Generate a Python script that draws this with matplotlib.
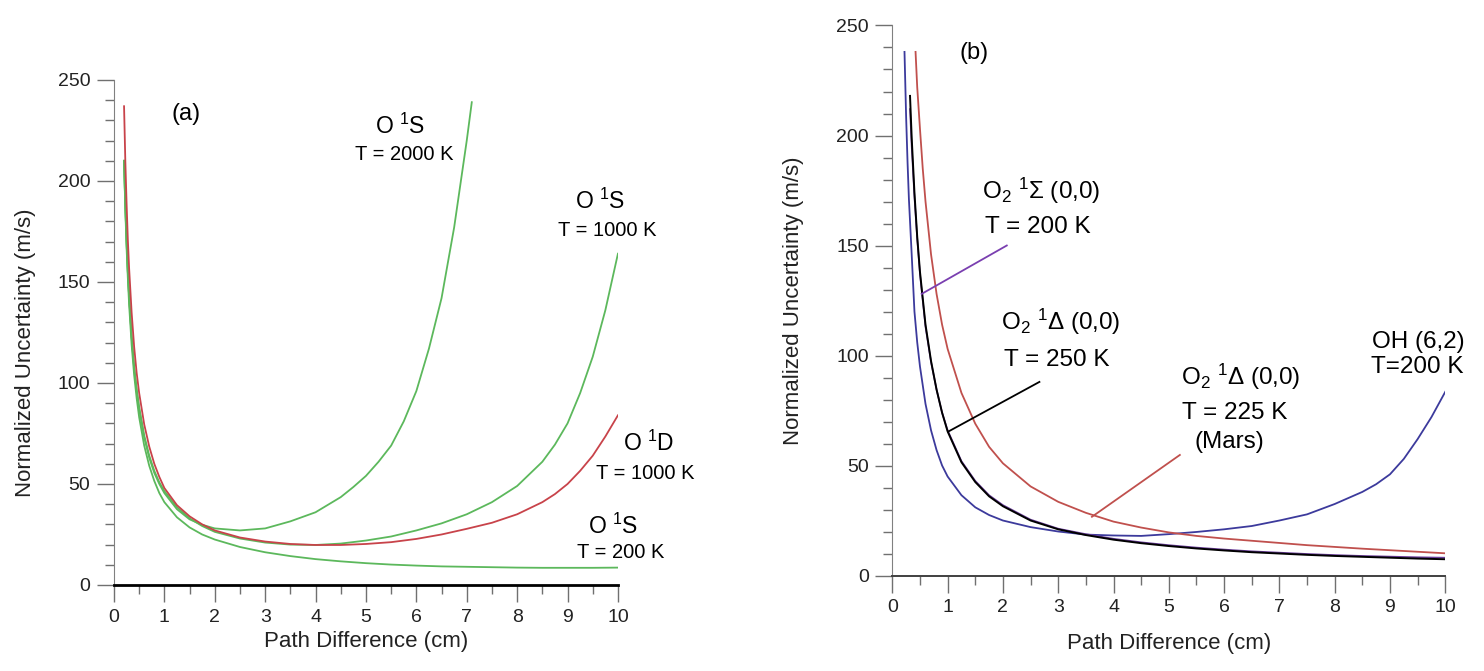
import numpy as np
import matplotlib.pyplot as plt
from matplotlib.ticker import MultipleLocator

plt.rcParams['font.family'] = ['Liberation Sans', 'DejaVu Sans']
plt.rcParams['mathtext.fontset'] = 'custom'
plt.rcParams['mathtext.rm'] = 'Liberation Sans'
plt.rcParams['mathtext.it'] = 'Liberation Sans:italic'
plt.rcParams['mathtext.bf'] = 'Liberation Sans:bold'

# ---------------- panel (a) data ----------------
x_a = [0.2, 0.225, 0.25, 0.275, 0.3, 0.35, 0.4, 0.45, 0.5, 0.6, 0.7, 0.8, 0.9, 1.0,
       1.25, 1.5, 1.75, 2, 2.5, 3, 3.5, 4, 4.5, 5, 5.5, 6, 6.5, 7, 7.5, 8, 8.5,
       8.75, 9, 9.25, 9.5, 9.75, 10]
o1d_1000 = [237, 210, 189, 171, 157, 135, 118, 105, 95, 79.5, 68.5, 60, 53.5, 48,
            39.5, 34, 30, 27, 23.5, 21.5, 20.3, 19.8, 19.8, 20.3, 21.2, 22.8, 25, 27.8, 30.8, 35, 41,
            45, 50, 56.5, 64, 73.5, 84]
o1s_1000 = [210, 188, 170, 155, 143, 123, 108, 97, 88, 74, 64, 56.5, 50.8, 46.5,
            38.5, 33, 29.2, 26.3, 23, 21, 20, 19.8, 20.5, 22, 24, 27, 30.5, 35, 41, 49, 61,
            69.5, 80, 95, 113, 136, 164]
o1s_200 = [210, 186, 167, 152, 139, 119, 104, 92.5, 83, 69, 59, 51.5, 45.5, 41,
           33.5, 28.5, 25, 22.5, 18.8, 16.2, 14.3, 12.8, 11.7, 10.8, 10.1, 9.6, 9.2, 9.0, 8.8, 8.6, 8.5,
           8.5, 8.5, 8.5, 8.5, 8.55, 8.6]
x_a2 = [0.2, 0.225, 0.25, 0.275, 0.3, 0.35, 0.4, 0.45, 0.5, 0.6, 0.7, 0.8, 0.9, 1.0,
        1.25, 1.5, 1.75, 2, 2.5, 3, 3.5, 4, 4.5, 4.75, 5, 5.25, 5.5, 5.75, 6, 6.25,
        6.5, 6.75, 7.0, 7.1]
o1s_2000 = [210, 188, 170, 155, 143, 123, 107.5, 96, 87, 73, 63, 55.5, 50, 45.5,
            37.5, 32.5, 29.8, 28, 27, 28, 31.5, 36, 43.5, 48.5, 54, 61, 69, 81, 96, 117,
            142, 177, 220, 239]

# ---------------- panel (b) data ----------------
x_oh = [0.22, 0.25, 0.275, 0.3, 0.35, 0.4, 0.45, 0.5, 0.6, 0.7, 0.8, 0.9, 1, 1.25,
        1.5, 1.75, 2, 2.5, 3, 3.5, 4, 4.5, 5, 5.5, 6, 6.5, 7, 7.5, 8, 8.5, 8.75, 9,
        9.25, 9.5, 9.75, 10]
oh_200 = [238, 208, 188, 171, 146, 120, 106, 95, 78, 66, 57, 50, 45, 36.5,
          31, 27.5, 25, 22, 20, 18.6, 18.2, 18.0, 18.8, 19.8, 21, 22.5, 25, 27.8, 32.5, 38, 41.5, 46,
          53, 62, 72, 83.5]
x_mars = [0.42, 0.45, 0.5, 0.55, 0.6, 0.7, 0.8, 0.9, 1, 1.25, 1.5, 1.75, 2, 2.5, 3,
          3.5, 4, 4.5, 5, 5.5, 6, 6.5, 7, 7.5, 8, 8.5, 9, 9.5, 10]
o2d_225 = [238, 222, 203, 185, 170, 146, 128, 114, 103, 83, 69, 58.5, 51, 40.5, 33.5,
           28.5, 24.5, 21.8, 19.6, 18, 16.8, 15.8, 14.8, 13.8, 13.0, 12.2, 11.5, 10.8, 10.1]
x_o2 = [0.32, 0.35, 0.4, 0.45, 0.5, 0.6, 0.7, 0.8, 0.9, 1, 1.25, 1.5, 1.75, 2, 2.5,
        3, 3.5, 4, 4.5, 5, 5.5, 6, 6.5, 7, 7.5, 8, 8.5, 9, 9.5, 10]
o2d_250 = [218, 199, 174, 154, 138, 114, 97.5, 84.5, 74, 65.5, 51.5, 42.5, 36, 31.5, 25,
           21, 18.4, 16.3, 14.7, 13.4, 12.3, 11.4, 10.6, 10.0, 9.4, 8.9, 8.5, 8.1, 7.7, 7.4]
o2s_200 = [212, 195, 172, 153, 137, 113, 97, 84.5, 74, 66, 52, 43, 36.5, 32, 25.4,
           21.3, 18.8, 16.7, 15.1, 13.8, 12.7, 11.8, 11.0, 10.4, 9.8, 9.3, 8.9, 8.6, 8.3, 8.1]

# leader lines (label -> curve)
lead_sig_x, lead_sig_y = [0.53, 2.07], [128, 150]
lead_d250_x, lead_d250_y = [1.01, 2.66], [65.4, 88]
lead_mars_x, lead_mars_y = [3.61, 5.2], [26.7, 54.8]

green = '#5cb85c'
red_a = '#c8434a'
blue = '#3c3a9c'
red_b = '#c0504d'
purple = '#6a3d9a'

fig = plt.figure(figsize=(14.84, 6.71), dpi=100)
ax1 = fig.add_axes([0.0768, 0.1282, 0.3396, 0.7526])
ax2 = fig.add_axes([0.6013, 0.1423, 0.3726, 0.8197])


def style(ax, bottom_color, bottom_lw):
    ax.set_xlim(0, 10)
    ax.set_ylim(0, 250)
    ax.spines['top'].set_visible(False)
    ax.spines['right'].set_visible(False)
    ax.spines['left'].set_color('#808080')
    ax.spines['bottom'].set_color(bottom_color)
    ax.spines['bottom'].set_linewidth(bottom_lw)
    ax.xaxis.set_major_locator(MultipleLocator(1))
    ax.xaxis.set_minor_locator(MultipleLocator(0.5))
    ax.yaxis.set_major_locator(MultipleLocator(50))
    ax.yaxis.set_minor_locator(MultipleLocator(10))
    ax.tick_params(which='major', direction='out', length=12, width=1, colors='#707070',
                   labelcolor='#222222', labelsize=14, pad=5)
    ax.tick_params(which='minor', direction='out', length=6.5, width=1, colors='#707070')
    ax.set_xlabel('Path Difference (cm)', fontsize=16, color='#222222')
    ax.set_ylabel('Normalized Uncertainty (m/s)', fontsize=16, color='#222222')


style(ax1, 'black', 2.0)
style(ax2, '#404040', 1.4)
ax1.xaxis.set_label_coords(0.5, -0.092)
ax1.yaxis.set_label_coords(-0.155, 0.46)
ax2.xaxis.set_label_coords(0.5, -0.105)
ax2.yaxis.set_label_coords(-0.16, 0.5)

# panel (a)
ax1.plot(x_a, o1s_200, color=green, lw=1.3)
ax1.plot(x_a, o1s_1000, color=green, lw=1.3)
ax1.plot(x_a2, o1s_2000, color=green, lw=1.3)
ax1.plot(x_a, o1d_1000, color=red_a, lw=1.3)

fo = 16.5
ft = 14.5
ax1.text(1.44, 233, '(a)', fontsize=17, ha='center', va='center')
ax1.text(5.67, 227, r'O $^1$S', fontsize=fo, ha='center', va='center')
ax1.text(5.76, 213, 'T = 2000 K', fontsize=ft, ha='center', va='center')
ax1.text(9.64, 190, r'O $^1$S', fontsize=fo, ha='center', va='center')
ax1.text(9.78, 175.7, 'T = 1000 K', fontsize=ft, ha='center', va='center')
ax1.text(10.6, 70, r'O $^1$D', fontsize=fo, ha='center', va='center')
ax1.text(10.54, 55.3, 'T = 1000 K', fontsize=ft, ha='center', va='center')
ax1.text(9.91, 29, r'O $^1$S', fontsize=fo, ha='center', va='center')
ax1.text(10.05, 16, 'T = 200 K', fontsize=ft, ha='center', va='center')

# panel (b)
ax2.plot(x_oh, oh_200, color=blue, lw=1.3)
ax2.plot(x_mars, o2d_225, color=red_b, lw=1.3)
ax2.plot(x_o2, o2s_200, color=purple, lw=1.2)
ax2.plot(x_o2, o2d_250, color='black', lw=1.4)
ax2.plot(lead_sig_x, lead_sig_y, color='#7a3fb0', lw=1.3)
ax2.plot(lead_d250_x, lead_d250_y, color='black', lw=1.3)
ax2.plot(lead_mars_x, lead_mars_y, color=red_b, lw=1.3)

fs2 = 17.5
ax2.text(1.47, 237.5, '(b)', fontsize=17, ha='center', va='center')
ax2.text(2.69, 175, r'O$_2$ $^1\Sigma$ (0,0)', fontsize=fs2, ha='center', va='center')
ax2.text(2.64, 158.5, 'T = 200 K', fontsize=fs2, ha='center', va='center')
ax2.text(3.05, 115.4, r'O$_2$ $^1\Delta$ (0,0)', fontsize=fs2, ha='center', va='center')
ax2.text(2.97, 98, 'T = 250 K', fontsize=fs2, ha='center', va='center')
ax2.text(6.3, 90.4, r'O$_2$ $^1\Delta$ (0,0)', fontsize=fs2, ha='center', va='center')
ax2.text(6.2, 73.7, 'T = 225 K', fontsize=fs2, ha='center', va='center')
ax2.text(6.1, 60.8, '(Mars)', fontsize=fs2, ha='center', va='center')
ax2.text(9.52, 106, 'OH (6,2)', fontsize=fs2, ha='center', va='center')
ax2.text(9.5, 95, 'T=200 K', fontsize=fs2, ha='center', va='center')

fig.savefig('out.png', dpi=100)
